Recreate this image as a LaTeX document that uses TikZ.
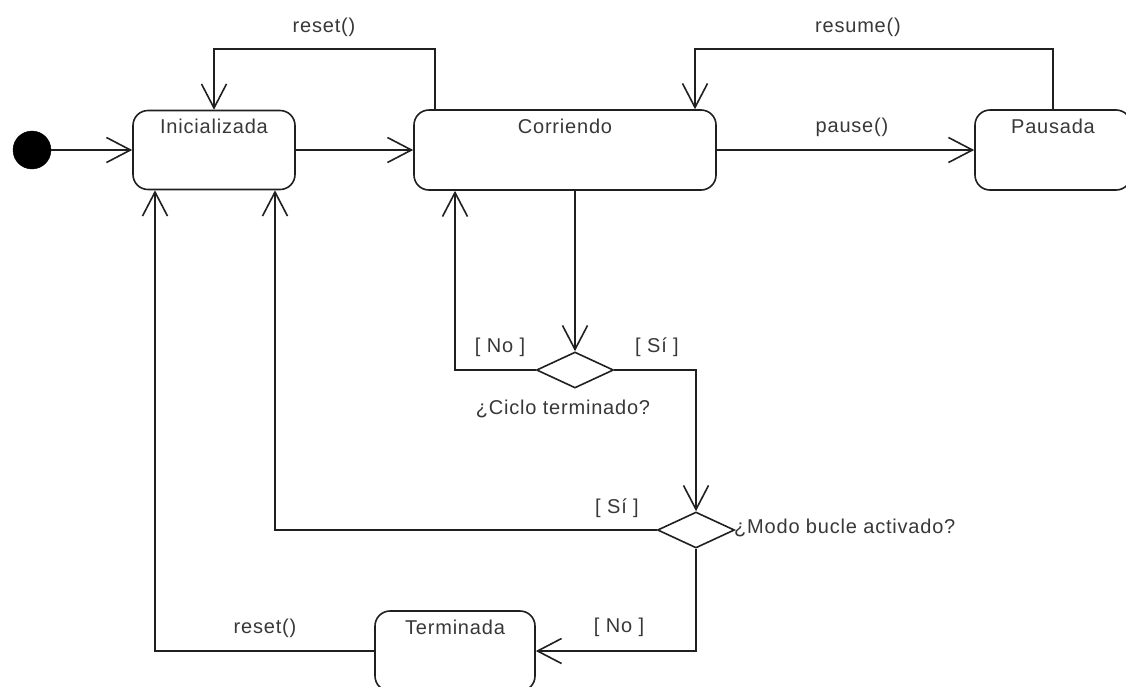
\documentclass[tikz,border=0pt]{standalone}
\usepackage{fontspec}
\setmainfont{Liberation Sans}[LetterSpace=4]
\usetikzlibrary{arrows.meta,shapes.geometric}
\definecolor{ink}{HTML}{202020}
\definecolor{txt}{HTML}{383838}
\begin{document}
\begin{tikzpicture}[x=1pt,y=-1pt,
  every node/.style={font=\fontsize{20pt}{23pt}\selectfont, text=txt},
  state/.style={draw=ink, line width=1.6pt, rounded corners=15pt, rectangle,
    minimum height=79pt, inner sep=0pt},
  choice/.style={draw=ink, line width=1.6pt, diamond, aspect=2.14,
    minimum width=77pt, minimum height=36pt, inner sep=0pt},
  startpt/.style={circle, fill=black, draw=black, minimum size=38pt, inner sep=0pt},
  tr/.style={draw=ink, line width=1.6pt, -{Straight Barb[length=24pt,width=25pt]}},
  lbl/.style={inner sep=1pt}]
\fill[white] (0,0) rectangle (1126,686);
\clip (0,0) rectangle (1126,686);

% states
\node[startpt] (init) at (32,150) {};
\node[state, minimum width=162pt,
  label={[anchor=north,yshift=-6pt]north:Inicializada}] (ini) at (214,150) {};
\node[state, minimum width=302pt, minimum height=80pt,
  label={[anchor=north,yshift=-6pt]north:Corriendo}] (cor) at (565,150) {};
\node[state, minimum width=156pt, minimum height=80pt,
  label={[anchor=north,yshift=-6pt]north:Pausada}] (pau) at (1053,150) {};
\node[state, minimum width=160pt, minimum height=80pt,
  label={[anchor=north,yshift=-6pt]north:Terminada}] (ter) at (455,651) {};

% decisions
\node[choice] (d1) at (575,370) {};
\node[choice] (d2) at (696,530) {};

% transitions
\draw[tr] (init) -- (ini);
\draw[tr] (ini) -- (cor);
\draw[tr] (cor) -- (pau);
\draw[tr] (pau.north) -- ++(0,-60) -| ([xshift=130pt]cor.north);
\draw[tr] ([xshift=-130pt]cor.north) -- ++(0,-60) -| (ini.north);
\draw[tr] (d1.north |- cor.south) -- (d1.north);
\draw[tr] (d1.west) -| ([xshift=-110pt]cor.south);
\draw[tr] (d1.east) -| (d2.north);
\draw[tr] (d2.west) -| ([xshift=61pt]ini.south);
\draw[tr] (d2.south) |- (ter.east);
\draw[tr] (ter.west) -| ([xshift=-59pt]ini.south);

% transition labels
\node[lbl] (lreset1) at (324,27) {reset()};
\node[lbl] (lresume) at (858,27) {resume()};
\node[lbl] (lpause) at (852,127) {pause()};
\node[lbl] (lno1) at (500,347) {[ No ]};
\node[lbl] (lsi1) at (657,347) {[ Sí ]};
\node[lbl] (lciclo) at (563,409) {¿Ciclo terminado?};
\node[lbl] (lsi2) at (617,508) {[ Sí ]};
\node[lbl, anchor=west] (lmodo) at (733,528) {¿Modo bucle activado?};
\node[lbl] (lno2) at (619,627) {[ No ]};
\node[lbl] (lreset2) at (265,628) {reset()};
\end{tikzpicture}
\end{document}
